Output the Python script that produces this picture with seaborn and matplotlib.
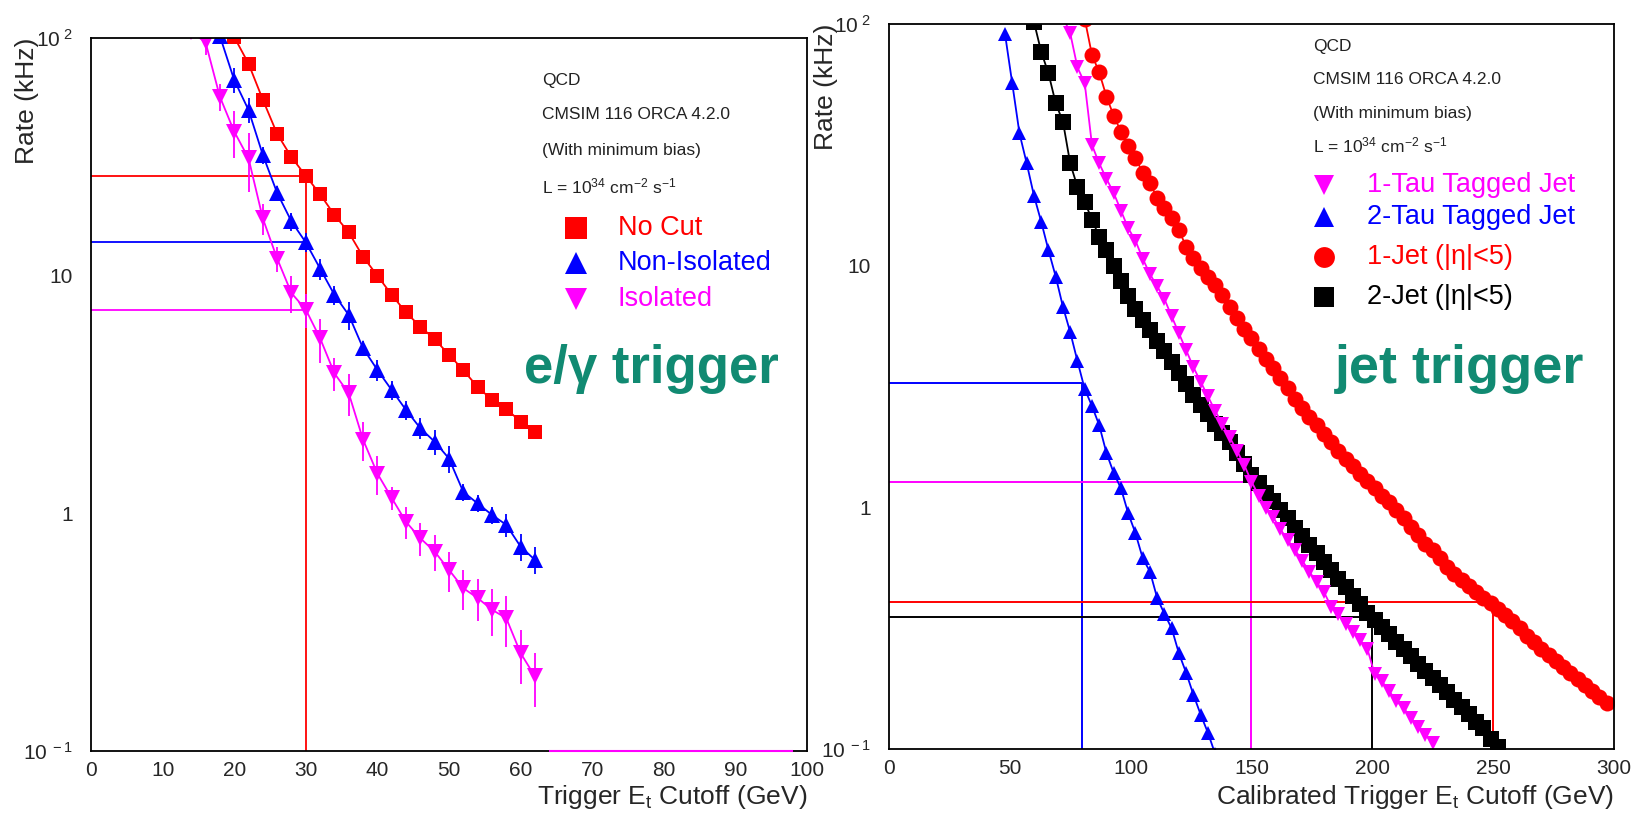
import matplotlib

matplotlib.use("Agg")
import matplotlib.pyplot as plt
import numpy as np
import pandas as pd
import seaborn as sns
from matplotlib.ticker import MultipleLocator, LogLocator, NullFormatter

# ---------------- data: e/gamma trigger (left) ----------------
nocut_et = [20, 22, 24, 26, 28, 30, 32, 34, 36, 38, 40, 42, 44, 46, 48, 50, 52, 54, 56, 58, 60, 62]
nocut_rate = [101, 78, 55, 39.5, 31.5, 26.3, 22.0, 18.0, 15.2, 12.0, 10.0, 8.3, 7.0, 6.1, 5.4,
              4.65, 4.0, 3.4, 3.0, 2.75, 2.43, 2.2]

noniso_et = [18, 20, 22, 24, 26, 28, 30, 32, 34, 36, 38, 40, 42, 44, 46, 48, 50, 52, 54, 56, 58, 60, 62]
noniso_rate = [102, 66.6, 49.8, 32.2, 22.3, 16.9, 13.8, 10.7, 8.3, 6.83, 4.95, 4.01, 3.3, 2.72,
               2.28, 2.0, 1.70, 1.23, 1.10, 0.985, 0.894, 0.724, 0.637]
noniso_err = [8, 8, 6, 2.6, 1.6, 1.5, 1.25, 1.07, 0.75, 0.9, 0.35, 0.4, 0.3, 0.24, 0.23, 0.24,
              0.22, 0.1, 0.09, 0.08, 0.1, 0.094, 0.083]

iso_et = [14, 16, 18, 20, 22, 24, 26, 28, 30, 32, 34, 36, 38, 40, 42, 44, 46, 48, 50, 52, 54, 56, 58, 60, 62]
iso_rate = [106, 96, 56.6, 40.4, 31.2, 17.4, 11.8, 8.44, 7.2, 5.45, 3.88, 3.2, 2.04, 1.47, 1.16,
            0.92, 0.785, 0.69, 0.578, 0.484, 0.44, 0.393, 0.362, 0.258, 0.206]
iso_err = [5, 11, 7.3, 9, 8.7, 2.6, 1.4, 1.5, 1.15, 1.15, 0.62, 0.64, 0.38, 0.28, 0.13, 0.14,
           0.125, 0.12, 0.11, 0.093, 0.088, 0.087, 0.087, 0.066, 0.053]

# working point lines (left): cut at 30 GeV
eg_cut = 30
eg_cut_rates = [26.3, 13.8, 7.2]
eg_cut_colors = ["#ff0000", "#0000ff", "#ff00ff"]
eg_stray_line = [64, 98]

# ---------------- data: jet trigger (right) ----------------
tau2_et = [48, 51, 54, 57, 60, 63, 66, 69, 72, 75, 78, 81, 84, 87, 90, 93, 96, 99, 102, 105,
           108, 111, 114, 117, 120, 123, 126, 129, 132, 135]
tau2_rate = [91.2, 56.9, 35.3, 26.5, 19.5, 15.2, 11.6, 9.02, 6.76, 5.31, 4.03, 3.09, 2.63, 2.19,
             1.68, 1.39, 1.20, 0.946, 0.783, 0.617, 0.543, 0.422, 0.363, 0.316, 0.249, 0.207,
             0.168, 0.139, 0.117, 0.0955]

tau1_et = [72, 75, 78, 81, 84, 87, 90, 93, 96, 99, 102, 105, 108, 111, 114, 117, 120, 123, 126,
           129, 132, 135, 138, 141, 144, 147, 150, 153, 156, 159, 162, 165, 168, 171, 174, 177,
           180, 183, 186, 189, 192, 195, 198, 201, 204, 207, 210, 213, 216, 219, 222, 225]
tau1_rate = [107, 91.6, 66.1, 56.9, 31.6, 26.5, 22.9, 20.0, 16.9, 14.3, 12.7, 10.7, 9.23, 8.22,
             7.28, 6.17, 5.25, 4.47, 3.80, 3.31, 2.88, 2.51, 2.21, 1.95, 1.72, 1.50, 1.28, 1.12,
             1.00, 0.912, 0.813, 0.733, 0.668, 0.603, 0.543, 0.490, 0.447, 0.389, 0.363, 0.331,
             0.305, 0.282, 0.260, 0.204, 0.191, 0.174, 0.158, 0.148, 0.135, 0.124, 0.115, 0.106]

jet1_et = [81, 84, 87, 90, 93, 96, 99, 102, 105, 108, 111, 114, 117, 120, 123, 126, 129, 132,
           135, 138, 141, 144, 147, 150, 153, 156, 159, 162, 165, 168, 171, 174, 177, 180, 183,
           186, 189, 192, 195, 198, 201, 204, 207, 210, 213, 216, 219, 222, 225, 228, 231, 234,
           237, 240, 243, 246, 249, 252, 255, 258, 261, 264, 267, 270, 273, 276, 279, 282, 285,
           288, 291, 294, 297]
jet1_rate = [105, 74.5, 63.1, 50.1, 41.7, 35.9, 31.3, 27.9, 24.3, 21.9, 19.1, 17.4, 15.7, 14.0,
             12.0, 10.8, 9.77, 9.02, 8.32, 7.59, 6.76, 6.10, 5.50, 5.01, 4.52, 4.12, 3.76, 3.43,
             3.13, 2.82, 2.57, 2.37, 2.19, 2.02, 1.86, 1.72, 1.58, 1.48, 1.38, 1.29, 1.20, 1.12,
             1.05, 0.977, 0.902, 0.832, 0.767, 0.708, 0.668, 0.617, 0.569, 0.531, 0.501, 0.473,
             0.447, 0.422, 0.403, 0.380, 0.359, 0.339, 0.316, 0.295, 0.279, 0.260, 0.245, 0.232,
             0.219, 0.207, 0.195, 0.184, 0.174, 0.164, 0.155]

jet2_et = [60, 63, 66, 69, 72, 75, 78, 81, 84, 87, 90, 93, 96, 99, 102, 105, 108, 111, 114, 117,
           120, 123, 126, 129, 132, 135, 138, 141, 144, 147, 150, 153, 156, 159, 162, 165, 168,
           171, 174, 177, 180, 183, 186, 189, 192, 195, 198, 201, 204, 207, 210, 213, 216, 219,
           222, 225, 228, 231, 234, 237, 240, 243, 246, 249, 252]
jet2_rate = [102, 76.7, 62.5, 47.0, 39.4, 26.5, 21.2, 18.4, 15.5, 13.2, 11.6, 10.0, 8.61, 7.50,
             6.61, 5.96, 5.43, 4.90, 4.42, 3.98, 3.59, 3.24, 2.92, 2.66, 2.43, 2.21, 2.04, 1.86,
             1.68, 1.51, 1.36, 1.26, 1.15, 1.06, 0.977, 0.902, 0.822, 0.759, 0.700, 0.646, 0.596,
             0.550, 0.507, 0.468, 0.432, 0.398, 0.367, 0.343, 0.320, 0.299, 0.279, 0.260, 0.243,
             0.226, 0.211, 0.197, 0.184, 0.172, 0.160, 0.150, 0.140, 0.130, 0.122, 0.110, 0.102]

# working points (right): cut value and rate for each trigger
jet_cuts = [80, 150, 250, 200]
jet_cut_rates = [3.27, 1.28, 0.405, 0.351]
jet_cut_colors = ["#0000ff", "#ff00ff", "#ff0000", "#000000"]

RED, BLUE, MAG, BLK = "#ff0000", "#0000ff", "#ff00ff", "#000000"
TEAL = "#118a72"

sns.set_style("white")
plt.rcParams["font.family"] = ["Liberation Sans", "DejaVu Sans"]
plt.rcParams["mathtext.fontset"] = "custom"
plt.rcParams["mathtext.rm"] = "Liberation Sans"
plt.rcParams["mathtext.it"] = "Liberation Sans:italic"
plt.rcParams["mathtext.bf"] = "Liberation Sans:bold"

fig = plt.figure(figsize=(16.42, 8.13), dpi=100)
ax1 = fig.add_axes([0.0554, 0.0763, 0.4361, 0.877])
ax2 = fig.add_axes([0.5414, 0.0784, 0.4415, 0.8921])


def draw_series(ax, x, y, color, marker, ms, err=None):
    df = pd.DataFrame({"et": x, "rate": y})
    sns.lineplot(data=df, x="et", y="rate", ax=ax, color=color, marker=marker,
                 markersize=ms, markeredgewidth=0, linewidth=1.3, errorbar=None)
    if err is not None:
        ax.errorbar(x, y, yerr=err, fmt="none", ecolor=color, elinewidth=1.3, capsize=0)


def style_axes(ax, xmax, xmajor, xminor):
    ax.set_yscale("log")
    ax.set_xlim(0, xmax)
    ax.set_ylim(0.1, 100)
    ax.xaxis.set_major_locator(MultipleLocator(xmajor))
    ax.xaxis.set_minor_locator(MultipleLocator(xminor))
    ax.yaxis.set_minor_locator(LogLocator(base=10, subs=np.arange(2, 10)))
    ax.yaxis.set_minor_formatter(NullFormatter())
    ax.set_yticks([0.1, 1, 10, 100], labels=["10$^{\\ -1}$", "1", "10", "10$^{\\ 2}$"])
    ax.tick_params(axis="both", which="major", direction="in", length=10.5, width=1.2,
                   labelsize=15, top=False, right=False)
    ax.tick_params(axis="both", which="minor", direction="in", length=5, width=1.0,
                   top=False, right=False)
    ax.tick_params(axis="y", which="major", pad=13)
    ax.tick_params(axis="x", which="major", pad=7)
    for sp in ax.spines.values():
        sp.set_visible(True)
        sp.set_color("black")
        sp.set_linewidth(1.3)
    ax.set_xlabel("")
    ax.set_ylabel("")


# ---------------- left panel ----------------
for r, c in zip(eg_cut_rates, eg_cut_colors):
    ax1.hlines(r, 0, eg_cut, color=c, linewidth=1.3)
ax1.vlines(eg_cut, 0.1, eg_cut_rates[0], color=eg_cut_colors[0], linewidth=1.3)
ax1.hlines(0.1, eg_stray_line[0], eg_stray_line[1], color=MAG, linewidth=1.5, clip_on=False, zorder=5)

draw_series(ax1, nocut_et, nocut_rate, RED, "s", 10.5)
draw_series(ax1, noniso_et, noniso_rate, BLUE, "^", 11, noniso_err)
draw_series(ax1, iso_et, iso_rate, MAG, "v", 11, iso_err)
style_axes(ax1, 100, 10, 2)

ax1.text(-0.089, 1.0, "Rate (kHz)", rotation=90, ha="center", va="top",
         fontsize=19, transform=ax1.transAxes)
ax1.text(1.0, -0.064, "Trigger E$_{\\mathregular{t}}$ Cutoff (GeV)", ha="right", va="center",
         fontsize=19, transform=ax1.transAxes)

info = ["QCD", "CMSIM 116 ORCA 4.2.0", "(With minimum bias)",
        "L = 10$^{34}$ cm$^{-2}$ s$^{-1}$"]
for txt, yy in zip(info, [0.941, 0.892, 0.8415, 0.792]):
    ax1.text(0.6295, yy, txt, fontsize=12.5, color="#222222", va="center",
             transform=ax1.transAxes)

leg1 = [("No Cut", RED, "s", 0.7335), ("Non-Isolated", BLUE, "^", 0.6844),
        ("Isolated", MAG, "v", 0.634)]
for lab, c, m, yy in leg1:
    ax1.plot([0.678], [yy], marker=m, color=c, markersize=15.5, markeredgewidth=0,
             linestyle="none", transform=ax1.transAxes, clip_on=False)
    ax1.text(0.736, yy, lab, color=c, fontsize=19.5, va="center", transform=ax1.transAxes)

ax1.text(0.6047, 0.516, "e/\u03b3 trigger", color=TEAL, fontsize=38, fontweight="bold",
         va="baseline", transform=ax1.transAxes)

# ---------------- right panel ----------------
for cut, r, c in zip(jet_cuts, jet_cut_rates, jet_cut_colors):
    ax2.hlines(r, 0, cut, color=c, linewidth=1.4)
    ax2.vlines(cut, 0.1, r, color=c, linewidth=1.4)

draw_series(ax2, tau2_et, tau2_rate, BLUE, "^", 10)
draw_series(ax2, jet2_et, jet2_rate, BLK, "s", 11)
draw_series(ax2, tau1_et, tau1_rate, MAG, "v", 10)
draw_series(ax2, jet1_et, jet1_rate, RED, "o", 11.5)
style_axes(ax2, 300, 50, 10)

ax2.text(-0.087, 1.0, "Rate (kHz)", rotation=90, ha="center", va="top",
         fontsize=19, transform=ax2.transAxes)
ax2.text(1.0, -0.066, "Calibrated Trigger E$_{\\mathregular{t}}$ Cutoff (GeV)", ha="right",
         va="center", fontsize=19, transform=ax2.transAxes)

for txt, yy in zip(info, [0.9683, 0.9228, 0.8759, 0.8332]):
    ax2.text(0.5847, yy, txt, fontsize=12.5, color="#222222", va="center",
             transform=ax2.transAxes)

leg2 = [("1-Tau Tagged Jet", MAG, "v", 0.778), ("2-Tau Tagged Jet", BLUE, "^", 0.734),
        ("1-Jet (|\u03b7|<5)", RED, "o", 0.6787), ("2-Jet (|\u03b7|<5)", BLK, "s", 0.6236)]
for lab, c, m, yy in leg2:
    ax2.plot([0.60], [yy], marker=m, color=c, markersize=15, markeredgewidth=0,
             linestyle="none", transform=ax2.transAxes, clip_on=False)
    ax2.text(0.6592, yy, lab, color=c, fontsize=19.5, va="center", transform=ax2.transAxes)

ax2.text(0.615, 0.505, "jet trigger", color=TEAL, fontsize=39, fontweight="bold",
         va="baseline", transform=ax2.transAxes)

fig.savefig("out.png", dpi=100)
